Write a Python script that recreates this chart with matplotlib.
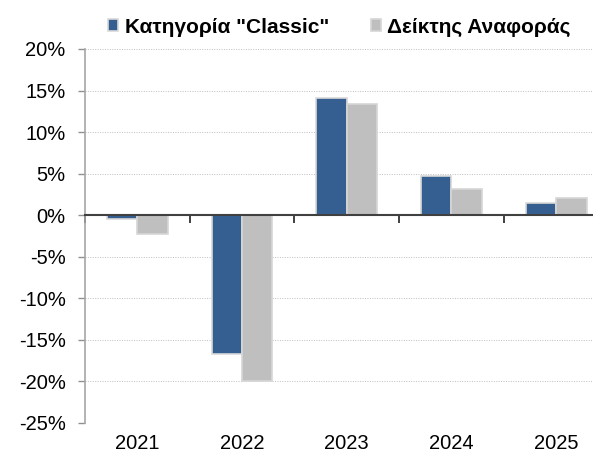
import matplotlib
matplotlib.use("Agg")
import matplotlib.pyplot as plt
import numpy as np
from matplotlib.ticker import FuncFormatter

plt.rcParams["font.family"] = ["Liberation Sans", "DejaVu Sans"]

years = ["2021", "2022", "2023", "2024", "2025"]
classic = [-0.5, -16.7, 14.1, 4.7, 1.5]
benchmark = [-2.2, -20.0, 13.4, 3.2, 2.1]
series_names = ['Κατηγορία "Classic"', "Δείκτης Αναφοράς"]

blue = "#355F91"
grey = "#BFBFBF"

fig = plt.figure(figsize=(5.93, 4.54), dpi=100)
ax = fig.add_axes([85 / 593, 31 / 454, 523.5 / 593, 374 / 454])

x = np.arange(len(years))
w = 0.29
ax.bar(x - w / 2, classic, w, color=blue, edgecolor="#D9D9D9", linewidth=1.2,
       label=series_names[0], zorder=3)
ax.bar(x + w / 2, benchmark, w, color=grey, edgecolor="#D6D6D6", linewidth=1.2,
       label=series_names[1], zorder=3)

ax.set_xlim(-0.5, len(years) - 0.5)
ax.set_ylim(-25, 20)
ax.set_yticks(np.arange(-25, 21, 5))
ax.yaxis.set_major_formatter(FuncFormatter(lambda v, p: f"{v:.0f}%"))
ax.tick_params(axis="y", colors="#909090", length=5, width=1, labelsize=14.5,
               labelcolor="black", pad=9)
for v in np.arange(-25, 21, 5):
    if v != 0:
        ax.axhline(v, color="#BEBEBE", linestyle=(0, (1, 1.5)), linewidth=0.7, zorder=1)

for s in ["top", "right"]:
    ax.spines[s].set_visible(False)
ax.spines["left"].set_color("#A6A6A6")
ax.spines["left"].set_linewidth(1.2)
ax.spines["bottom"].set_position(("data", 0))
ax.spines["bottom"].set_color("#404040")
ax.spines["bottom"].set_linewidth(1.5)
ax.spines["bottom"].set_zorder(4)

# boundary ticks on zero line
ax.set_xticks(np.arange(len(years) + 1) - 0.5)
ax.set_xticklabels([])
ax.tick_params(axis="x", direction="out", length=6, width=1.2, colors="#202020")

# year labels at bottom
sec = ax.secondary_xaxis("bottom")
sec.set_xticks(x)
sec.set_xticklabels(years)
sec.tick_params(length=0, labelsize=14.5, pad=8)
sec.spines["bottom"].set_visible(False)

fig.legend(loc="center left", bbox_to_anchor=(0.168, 0.94), ncol=2, frameon=False,
           prop={"weight": "bold", "size": 15}, handlelength=0.5, handleheight=0.5,
           handletextpad=0.3, columnspacing=2.0, borderaxespad=0)

fig.savefig("out.png", dpi=100)
